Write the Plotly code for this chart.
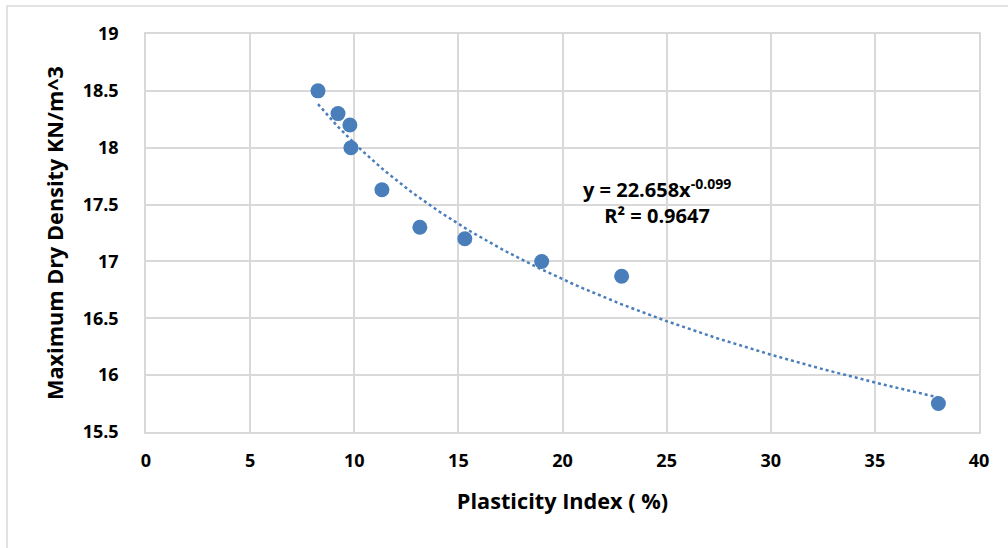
import numpy as np
import plotly.graph_objects as go

# Measured samples: plasticity index (%) vs. maximum dry density (kN/m^3)
plasticity_index = [8.26, 9.22, 9.79, 9.84, 11.33, 13.15, 15.31, 19.0, 22.84, 38.05]
max_dry_density = [18.5, 18.3, 18.2, 18.0, 17.63, 17.3, 17.2, 17.0, 16.87, 15.75]

# Power trendline y = a * x^b as reported on the chart
trend_a = 22.658
trend_b = -0.099
r_squared = 0.9647

x_ticks = [0, 5, 10, 15, 20, 25, 30, 35, 40]
y_ticks = [15.5, 16, 16.5, 17, 17.5, 18, 18.5, 19]

blue = "#4A7EBB"
grid = "#D9D9D9"
font_family = "'Open Sans', 'DejaVu Sans', sans-serif"

trend_x = np.linspace(min(plasticity_index), max(plasticity_index), 200)
trend_y = trend_a * trend_x ** trend_b

fig = go.Figure()
fig.add_trace(go.Scatter(
    x=trend_x, y=trend_y, mode="lines",
    line=dict(color=blue, width=2.5, dash="dot"),
    hoverinfo="skip", showlegend=False,
))
fig.add_trace(go.Scatter(
    x=plasticity_index, y=max_dry_density, mode="markers",
    marker=dict(color=blue, size=15, line=dict(width=0)),
    showlegend=False,
))

fig.add_annotation(
    x=0.614, y=0.578, xref="paper", yref="paper",
    text=f"<b>y = {trend_a}x<sup>{trend_b}</sup><br>R² = {r_squared}</b>",
    showarrow=False, align="center",
    font=dict(family=font_family, size=20, color="#000000"),
)

# Light frame around the chart area
fig.add_shape(
    type="rect", xref="paper", yref="paper",
    x0=-0.1669, y0=1.0704, x1=1.2, y1=-0.5,
    line=dict(color="#D9D9D9", width=1.5), fillcolor="rgba(0,0,0,0)",
    layer="below",
)

tick_font = dict(family=font_family, size=18, color="#000000", weight="bold")
title_font = dict(family=font_family, size=21.7, color="#000000")

fig.update_layout(
    width=1008, height=548,
    margin=dict(l=146, r=29, t=34, b=116),
    paper_bgcolor="white", plot_bgcolor="white",
    xaxis=dict(
        range=[0, 40], tickvals=x_ticks, showgrid=True, gridcolor=grid, gridwidth=1.5,
        zeroline=False, showline=True, linecolor=grid, linewidth=1.5, mirror=True,
        ticks="", tickfont=tick_font, ticklabelstandoff=12,
        title=dict(text="<b>Plasticity Index ( %)</b>", font=title_font, standoff=22),
    ),
    yaxis=dict(
        range=[15.5, 19], tickvals=y_ticks, showgrid=True, gridcolor=grid, gridwidth=1.5,
        zeroline=False, showline=True, linecolor=grid, linewidth=1.5, mirror=True,
        ticks="", tickfont=tick_font, ticklabelstandoff=22,
        title=dict(text="<b>Maximum Dry Density KN/m^3</b>", font=title_font, standoff=13),
    ),
)

fig.write_html("out.html")
